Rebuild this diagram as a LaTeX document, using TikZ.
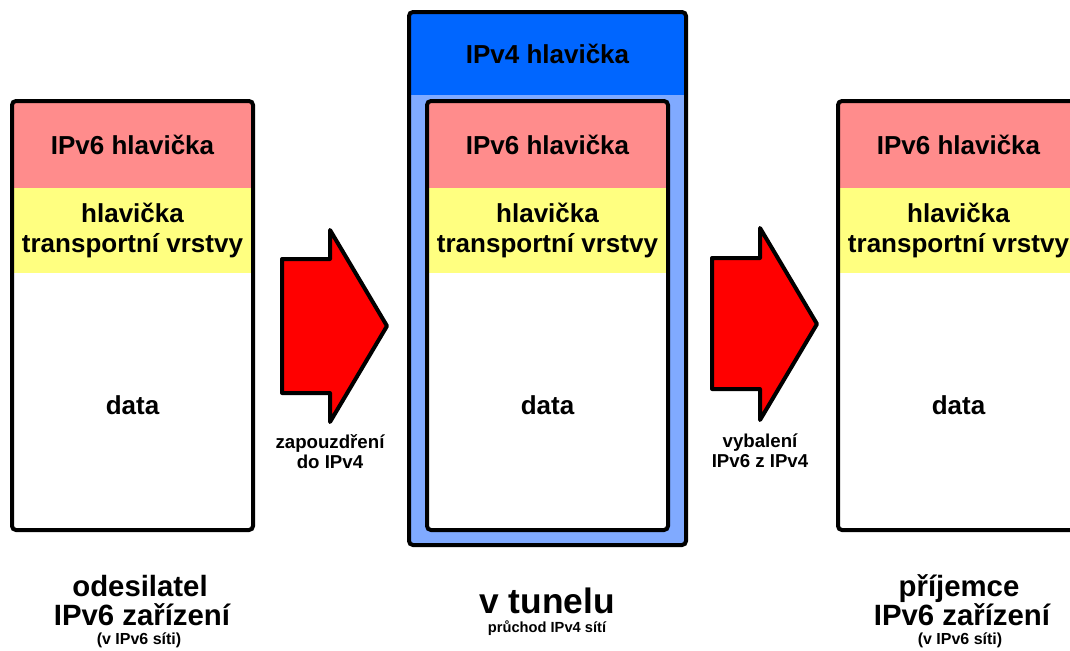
\documentclass[tikz,border=0pt]{standalone}
\usepackage{fontspec}
\setmainfont{Liberation Sans}
\usetikzlibrary{positioning}
\definecolor{v6red}{RGB}{255,140,140}
\definecolor{tryellow}{RGB}{255,255,128}
\definecolor{v4blue}{RGB}{0,102,255}
\definecolor{tunblue}{RGB}{128,170,255}
\tikzset{
x=0.75pt, y=-0.75pt, % one unit is one pixel of the picture, y runs downwards
frame/.style={draw, line width=3pt, rounded corners=3pt}, % thick black outline of a packet
packet/.style={minimum width=180.75pt, minimum height=321.75pt, inner sep=0pt, outer sep=0pt, fill=white},
tunnel/.style={minimum width=207.75pt, minimum height=399.75pt, inner sep=0pt, outer sep=0pt, fill=tunblue},
band/.style={minimum width=180.75pt, inner sep=0pt, outer sep=0pt, align=center, font=\fontsize{19.5}{22.5}\selectfont\bfseries},
ip6/.style={band, fill=v6red, minimum height=65.25pt},
ip4/.style={band, fill=v4blue, minimum width=207.75pt, minimum height=62.25pt},
tr/.style={band, fill=tryellow, minimum height=63.75pt},
payload/.style={band, minimum height=192.75pt},
bigarrow/.style={draw, line width=3pt, fill=red, line join=round}, % the red block arrows
note/.style={align=center, font=\fontsize{14}{15}\selectfont\bfseries},
who/.style={anchor=base, inner sep=0.5pt, font=\fontsize{22}{24}\selectfont\bfseries},
where/.style={anchor=base, inner sep=0.5pt, font=\fontsize{12}{13}\selectfont\bfseries},
}

\begin{document}
\begin{tikzpicture}
        \useasboundingbox (0,0) rectangle (1070,650);
        \clip (0,0) rectangle (1070,650);

        % sender
        \node[packet] (snd) at (132.5,315.5) {};
        \node[ip6, below=0pt of snd.north] (snd-ip6) {IPv6 hlavička};
        \node[tr, below=0pt of snd-ip6] (snd-tr) {hlavička\\transportní vrstvy};
        \node[payload, below=0pt of snd-tr] (snd-data) {\raisebox{-3pt}[\height][0pt]{data}};
        \draw[frame] (snd.south west) rectangle (snd.north east);

        % tunnel
        \node[tunnel] (tun) at (547.5,278.5) {};
        \node[ip4, below=0pt of tun.north] (tun-ip4) {IPv4 hlavička};
        \draw[frame] (tun.south west) rectangle (tun.north east);
        \node[packet] (mid) at (547.5,315.5) {};
        \node[ip6, below=0pt of mid.north] (mid-ip6) {IPv6 hlavička};
        \node[tr, below=0pt of mid-ip6] (mid-tr) {hlavička\\transportní vrstvy};
        \node[payload, below=0pt of mid-tr] (mid-data) {\raisebox{-3pt}[\height][0pt]{data}};
        \draw[frame] (mid.south west) rectangle (mid.north east);

        % receiver
        \node[packet] (rcv) at (958.5,315.5) {};
        \node[ip6, below=0pt of rcv.north] (rcv-ip6) {IPv6 hlavička};
        \node[tr, below=0pt of rcv-ip6] (rcv-tr) {hlavička\\transportní vrstvy};
        \node[payload, below=0pt of rcv-tr] (rcv-data) {\raisebox{-3pt}[\height][0pt]{data}};
        \draw[frame] (rcv.south west) rectangle (rcv.north east);

        % arrows
        \draw[bigarrow] (282,259) -- (330,259) -- (330,230) -- (387,326) -- (330,422) -- (330,393) -- (282,393) -- cycle;
        \node[note] (encap) at (330,452) {zapouzdření\\do IPv4};
        \draw[bigarrow] (712,258) -- (760,258) -- (760,228) -- (817,324) -- (760,420) -- (760,389) -- (712,389) -- cycle;
        \node[note] (decap) at (760,451) {vybalení\\IPv6 z IPv4};

        % captions
        \node[who] (snd-who) at (140,596) {odesilatel};
        \node[who] (snd-dev) at (142,625) {IPv6 zařízení};
        \node[where] (snd-net) at (139,644) {(v IPv6 síti)};
        \node[who, font=\fontsize{26.5}{28}\selectfont\bfseries] (tun-who) at (547,613) {v tunelu};
        \node[where, font=\fontsize{11}{12}\selectfont\bfseries] (tun-net) at (547,632) {průchod IPv4 sítí};
        \node[who] (rcv-who) at (959,596) {příjemce};
        \node[who] (rcv-dev) at (962,625) {IPv6 zařízení};
        \node[where] (rcv-net) at (960,644) {(v IPv6 síti)};
      \end{tikzpicture}
\end{document}
